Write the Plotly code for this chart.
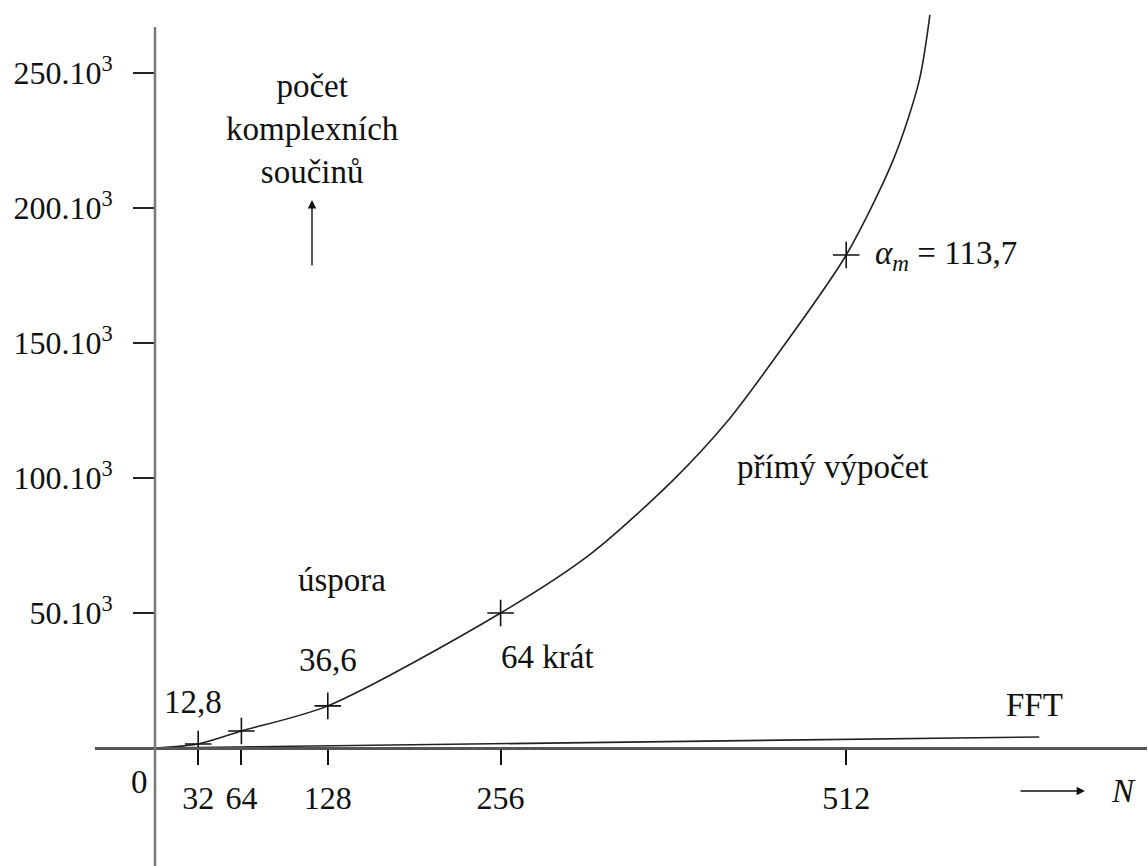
import plotly.graph_objects as go

W, H = 1148, 866
FONT = "Liberation Serif"

# --- data ---
N_curve = [0, 32, 64, 128, 256, 323, 384, 424, 460, 512, 547, 566, 574]
V_curve = [0, 1500, 6300, 15600, 50000, 72000, 99300, 121000,
           145000, 182600, 218000, 247000, 271500]
N_marks = [32, 64, 128, 256, 512]
V_marks = [1500, 6300, 15600, 50000, 182600]
N_fft = [0, 655]
V_fft = [0, 4100]
x_ticks = [32, 64, 128, 256, 512]
x_ticktext = ["32", "64", "128", "256", "512"]
y_ticks = [50000, 100000, 150000, 200000, 250000]
y_ticktext = ["50.10<sup>3</sup>", "100.10<sup>3</sup>", "150.10<sup>3</sup>",
              "200.10<sup>3</sup>", "250.10<sup>3</sup>"]

# pixel geometry helpers (layout only)
px_per_N = 1.35
x0_px = 155
y0_px = 748
px_per_V = 135 / 50000
x_left_px, x_right_px = 95, 1147
xmin = -(x0_px - x_left_px) / px_per_N
xmax = (x_right_px - x0_px) / px_per_N
ymax = y0_px / px_per_V
ymin = -(H - y0_px) / px_per_V

fig = go.Figure()
fig.add_trace(go.Scatter(x=N_fft, y=V_fft, mode="lines",
                         line=dict(color="#222", width=1.6), hoverinfo="skip"))
fig.add_trace(go.Scatter(x=N_curve, y=V_curve, mode="lines",
                         line=dict(color="#222", width=1.6, shape="spline", smoothing=0.8),
                         hoverinfo="skip"))
fig.add_trace(go.Scatter(x=N_marks, y=V_marks, mode="markers",
                         marker=dict(symbol="cross-thin", size=19,
                                     line=dict(color="#111", width=1.6)),
                         hoverinfo="skip"))


def P(px, py):
    return px / W, 1 - py / H


ann = []
def text(s, px, py, xanchor="center", size=33):
    x, y = P(px, py)
    ann.append(dict(text=s, x=x, y=y, xref="paper", yref="paper",
                    xanchor=xanchor, yanchor="middle", showarrow=False,
                    font=dict(family=FONT, size=size, color="#111")))

text("počet<br>komplexních<br>součinů", 312, 129)
text("<i>α</i><sub><i>m</i></sub> = 113,7", 873, 255, xanchor="left")
text("přímý výpočet", 833, 467)
text("úspora", 342, 580)
text("36,6", 328, 660)
text("12,8", 193, 702)
text("64 krát", 547, 657)
text("FFT", 1034, 705)
text("0", 139, 782)
text("<i>N</i>", 1123, 791)

# arrows
hx, hy = P(312, 200)
ann.append(dict(x=hx, y=hy, xref="paper", yref="paper", ax=0, ay=67,
                text="", showarrow=True, arrowhead=2, arrowsize=1.2,
                arrowwidth=1.4, arrowcolor="#111"))
hx, hy = P(1085, 791)
ann.append(dict(x=hx, y=hy, xref="paper", yref="paper", ax=-66, ay=0,
                text="", showarrow=True, arrowhead=2, arrowsize=1.2,
                arrowwidth=1.4, arrowcolor="#111"))

fig.update_layout(
    width=W, height=H,
    margin=dict(l=0, r=0, t=0, b=0),
    paper_bgcolor="white", plot_bgcolor="white",
    showlegend=False,
    annotations=ann,
    shapes=[dict(type="line", xref="x", yref="paper", x0=0, x1=0,
                 y0=0, y1=1 - 27 / H, line=dict(color="#777", width=2.5))],
    xaxis=dict(domain=[x_left_px / W, x_right_px / W], range=[xmin, xmax],
               anchor="free", position=(H - y0_px) / H,
               showline=True, linecolor="#555", linewidth=2.5,
               showgrid=False, zeroline=False,
               tickmode="array", tickvals=x_ticks, ticktext=x_ticktext,
               ticks="outside", ticklen=15, tickwidth=1.5, tickcolor="#111",
               ticklabelstandoff=6,
               tickfont=dict(family=FONT, size=32, color="#111")),
    yaxis=dict(domain=[0, 1], range=[ymin, ymax],
               anchor="free", position=x0_px / W,
               showline=False, showgrid=False, zeroline=False,
               tickmode="array", tickvals=y_ticks, ticktext=y_ticktext,
               ticks="outside", ticklen=22, tickwidth=2, tickcolor="#222",
               ticklabelstandoff=14,
               tickfont=dict(family=FONT, size=32, color="#111")),
)

fig.write_html("out.html",
               config={"displayModeBar": False},
               post_script="document.body.style.margin='0px';"
                           "document.body.style.overflow='hidden';")
